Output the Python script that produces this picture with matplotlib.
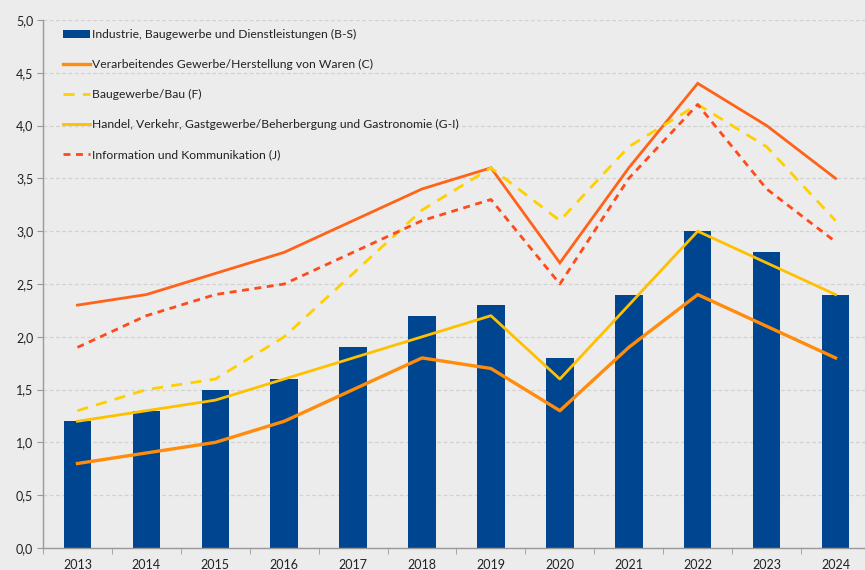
import matplotlib
matplotlib.use("Agg")
import matplotlib.pyplot as plt
import numpy as np
from matplotlib.ticker import FuncFormatter, FixedLocator

plt.rcParams['font.family'] = ['Lato', 'DejaVu Sans']

years = ["2013", "2014", "2015", "2016", "2017", "2018", "2019", "2020", "2021", "2022", "2023", "2024"]
bs_total = [1.2, 1.3, 1.5, 1.6, 1.9, 2.2, 2.3, 1.8, 2.4, 3.0, 2.8, 2.4]
verarb = [0.8, 0.9, 1.0, 1.2, 1.5, 1.8, 1.7, 1.3, 1.9, 2.4, 2.1, 1.8]
bau = [1.3, 1.5, 1.6, 2.0, 2.6, 3.2, 3.6, 3.1, 3.8, 4.2, 3.8, 3.1]
handel = [1.2, 1.3, 1.4, 1.6, 1.8, 2.0, 2.2, 1.6, 2.3, 3.0, 2.7, 2.4]
info = [1.9, 2.2, 2.4, 2.5, 2.8, 3.1, 3.3, 2.5, 3.5, 4.2, 3.4, 2.9]
top_line = [2.3, 2.4, 2.6, 2.8, 3.1, 3.4, 3.6, 2.7, 3.6, 4.4, 4.0, 3.5]

labels = [
    "Industrie, Baugewerbe und Dienstleistungen (B-S)",
    "Verarbeitendes Gewerbe/Herstellung von Waren (C)",
    "Baugewerbe/Bau (F)",
    "Handel, Verkehr, Gastgewerbe/Beherbergung und Gastronomie (G-I)",
    "Information und Kommunikation (J)",
]

bg = "#ececec"
fig = plt.figure(figsize=(8.65, 5.70), dpi=100, facecolor=bg)
ax = fig.add_axes([43/865, 22/570, 827/865, 528/570])
ax.set_facecolor(bg)

x = np.arange(len(years))
lw = 2.0
h0 = ax.bar(x, bs_total, width=0.4, color="#00458f", label=labels[0], zorder=2)
ax.plot(x, top_line, color="#ff6319", lw=lw, zorder=3, solid_joinstyle="miter")
h1, = ax.plot(x, verarb, color="#ff8c0a", lw=lw + 0.4, label=labels[1], zorder=4)
h2, = ax.plot(x, bau, color="#ffd000", lw=lw, ls=(0, (4, 3)), label=labels[2], zorder=3)
h3, = ax.plot(x, handel, color="#ffc000", lw=lw, label=labels[3], zorder=3)
h4, = ax.plot(x, info, color="#ff4a1a", lw=lw, ls=(0, (2.5, 2)), label=labels[4], zorder=3)

ax.set_xlim(-0.5, len(years) - 0.5)
ax.set_ylim(0, 5.0)
ax.set_yticks(np.arange(0, 5.01, 0.5))
ax.yaxis.set_major_formatter(FuncFormatter(lambda v, p: f"{v:.1f}".replace(".", ",")))
ax.set_xticks(x)
ax.set_xticklabels(years)
ax.xaxis.set_minor_locator(FixedLocator(np.arange(-0.5, len(years), 1.0)))
ax.tick_params(axis="x", which="major", length=0, pad=8, labelsize=9, colors="#222222")
ax.tick_params(axis="x", which="minor", length=4, color="#999999", direction="out")
ax.tick_params(axis="y", length=4, color="#999999", labelsize=9, colors="#222222", pad=3)

ax.grid(axis="y", color="#d2d2d2", ls=(0, (3, 2)), lw=0.9, zorder=0)
ax.set_axisbelow(True)
for s in ["top", "right"]:
    ax.spines[s].set_visible(False)
for s in ["left", "bottom"]:
    ax.spines[s].set_color("#999999")
    ax.spines[s].set_linewidth(1.0)

leg = ax.legend([h0, h1, h2, h3, h4], labels, loc="upper left",
                bbox_to_anchor=(0.015, 0.996), frameon=False,
                fontsize=8.7, handlelength=2.3, handletextpad=0.15, labelspacing=1.57,
                borderaxespad=0.2)
for t in leg.get_texts():
    t.set_color("#222222")

fig.savefig("out.png", dpi=100, facecolor=bg)
